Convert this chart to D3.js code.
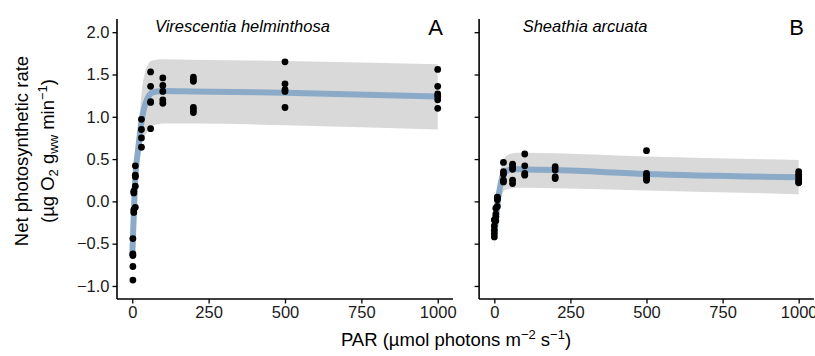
<!DOCTYPE html>
<meta charset="utf-8">
<style>
  body { margin: 0; background: #fff; }
  text { font-family: "Liberation Sans", Arial, Helvetica, sans-serif; }
</style>
<script src="https://d3js.org/d3.v7.min.js"></script>
<div id="my_dataviz"></div>
<script>
// species shown in the two panels
const species = ["Virescentia helminthosa", "Sheathia arcuata"]
const panelTags = ["A", "B"]

// measured points, panel A
const parA  = [2, 2, 2, 2, 2, 5, 5, 5, 5, 10, 10, 10, 10, 10,
               30, 30, 30, 30, 60, 60, 60, 60, 60, 100, 100, 100, 100, 100,
               200, 200, 200, 200, 200, 200, 500, 500, 500, 500, 500,
               1000, 1000, 1000, 1000, 1000, 1000]
const rateA = [-0.93, -0.77, -0.64, -0.62, -0.44, -0.13, -0.10, 0.10, 0.12, -0.07, 0.18, 0.29, 0.31, 0.42,
               0.64, 0.75, 0.85, 0.97, 1.53, 1.36, 1.18, 1.17, 0.86, 1.46, 1.37, 1.30, 1.20, 1.16,
               1.47, 1.44, 1.42, 1.11, 1.08, 1.05, 1.65, 1.39, 1.32, 1.30, 1.11,
               1.56, 1.36, 1.27, 1.24, 1.20, 1.10]

// measured points, panel B
const parB  = [0, 0, 0, 0, 0, 5, 5, 5, 5, 10, 10, 10, 10,
               30, 30, 30, 30, 30, 60, 60, 60, 60, 60, 100, 100, 100, 100,
               200, 200, 200, 200, 500, 500, 500, 500, 500,
               1000, 1000, 1000, 1000, 1000, 1000]
const rateB = [-0.42, -0.38, -0.34, -0.29, -0.22, -0.23, -0.18, -0.15, -0.08, -0.06, 0.02, 0.04, 0.05,
               0.46, 0.35, 0.32, 0.25, 0.23, 0.44, 0.41, 0.38, 0.25, 0.21, 0.56, 0.42, 0.33, 0.31,
               0.41, 0.37, 0.29, 0.27, 0.60, 0.33, 0.30, 0.27, 0.25,
               0.35, 0.32, 0.29, 0.26, 0.23, 0.22]

// fitted curve with its band
const parFit = [0, 2, 5, 8, 12, 19, 25, 31, 40, 50, 62, 80, 100, 200, 500, 1000]
const fitA = [-0.65, -0.45, -0.15, 0.13, 0.38, 0.61, 0.80, 0.96, 1.12, 1.22, 1.28, 1.30, 1.305, 1.30, 1.285, 1.24]
const loA  = [-0.75, -0.56, -0.27, 0.00, 0.24, 0.45, 0.58, 0.68, 0.76, 0.83, 0.89, 0.91, 0.92, 0.92, 0.90, 0.85]
const hiA  = [-0.55, -0.34, -0.03, 0.26, 0.52, 0.80, 1.05, 1.30, 1.50, 1.61, 1.66, 1.675, 1.68, 1.675, 1.66, 1.62]
const fitB = [-0.40, -0.33, -0.22, -0.11, 0.02, 0.17, 0.27, 0.33, 0.36, 0.375, 0.38, 0.38, 0.378, 0.37, 0.325, 0.285]
const loB  = [-0.55, -0.48, -0.37, -0.26, -0.13, 0.00, 0.08, 0.12, 0.14, 0.15, 0.155, 0.16, 0.16, 0.155, 0.13, 0.085]
const hiB  = [-0.25, -0.18, -0.07, 0.04, 0.17, 0.33, 0.44, 0.50, 0.54, 0.56, 0.57, 0.575, 0.575, 0.57, 0.53, 0.49]

const xTicks = [0, 250, 500, 750, 1000]
const yTicks = [-1.0, -0.5, 0.0, 0.5, 1.0, 1.5, 2.0]

var width = 815, height = 356
var panelTop = 19, panelBottom = 299
var panelLeft = [117, 479.1], panelRight = [453, 813.9]
var labelX = [155, 522.7]

var svg = d3.select("#my_dataviz")
  .append("svg")
  .attr("width", width)
  .attr("height", height)

var y = d3.scaleLinear()
  .domain([-1.154, 2.156])
  .range([panelBottom, panelTop])

var panels = [
  { pts: parA.map((p, i) => [p, rateA[i]]), fit: fitA, lo: loA, hi: hiA },
  { pts: parB.map((p, i) => [p, rateB[i]]), fit: fitB, lo: loB, hi: hiB }
]

panels.forEach(function (pd, k) {
  var x = d3.scaleLinear()
    .domain([-50, 1050])
    .range([panelLeft[k], panelRight[k]])

  var g = svg.append("g")

  // confidence band
  var band = d3.area()
    .x(d => x(d))
    .y0((d, i) => y(pd.lo[i]))
    .y1((d, i) => y(pd.hi[i]))
    .curve(d3.curveMonotoneX)
  g.append("path")
    .attr("d", band(parFit))
    .attr("fill", "#d9d9d9")

  // fitted line
  var line = d3.line()
    .x(d => x(d))
    .y((d, i) => y(pd.fit[i]))
    .curve(d3.curveMonotoneX)
  g.append("path")
    .attr("d", line(parFit))
    .attr("fill", "none")
    .attr("stroke", "#8aaac8")
    .attr("stroke-width", 6)

  // points
  g.selectAll("circle")
    .data(pd.pts)
    .enter()
    .append("circle")
      .attr("cx", d => x(d[0]))
      .attr("cy", d => y(d[1]))
      .attr("r", 3.4)
      .attr("fill", "#000")

  // axes
  var xAxis = g.append("g")
    .attr("transform", "translate(0," + panelBottom + ")")
    .call(d3.axisBottom(x).tickValues(xTicks).tickSize(4.5).tickPadding(3).tickFormat(d3.format("d")))
  var yAxis = g.append("g")
    .attr("transform", "translate(" + panelLeft[k] + ",0)")
    .call(d3.axisLeft(y).tickValues(yTicks).tickSize(4.5).tickPadding(3)
      .tickFormat(k === 0 ? d3.format(".1f") : ""))

  ;[xAxis, yAxis].forEach(function (ax) {
    ax.select(".domain").attr("stroke", "#000").attr("stroke-width", 1.6)
    ax.selectAll(".tick line").attr("stroke", "#000").attr("stroke-width", 1.3)
    ax.selectAll(".tick text")
      .attr("fill", "#1a1a1a")
      .style("font-size", "16.5px")
      .style("font-family", "Liberation Sans, Arial, sans-serif")
  })
  // ggplot style: axis lines without end caps
  xAxis.select(".domain").attr("d", "M" + panelLeft[k] + ",0H" + panelRight[k])
  yAxis.select(".domain").attr("d", "M0," + panelBottom + "V" + panelTop)

  // species label and panel tag
  g.append("text")
    .attr("x", labelX[k])
    .attr("y", 32)
    .style("font-size", "16.5px")
    .style("font-style", "italic")
    .text(species[k])
  g.append("text")
    .attr("x", panelRight[k] - 10)
    .attr("y", 35)
    .attr("text-anchor", "end")
    .style("font-size", "22px")
    .text(panelTags[k])
})

// y axis title, two lines
var yTitle = svg.append("text")
  .attr("transform", "translate(0,151) rotate(-90)")
  .attr("text-anchor", "middle")
  .style("font-size", "18.5px")
yTitle.append("tspan").attr("x", 0).attr("y", 28).text("Net photosynthetic rate")
var l2 = yTitle.append("tspan").attr("x", 0).attr("y", 54)
l2.append("tspan").text("(\u00b5g O")
l2.append("tspan").attr("dy", 4).style("font-size", "13px").text("2")
l2.append("tspan").attr("dy", -4).text(" g")
l2.append("tspan").attr("dy", 4).style("font-size", "13px").text("ww")
l2.append("tspan").attr("dy", -4).text(" min")
l2.append("tspan").attr("dy", -7).style("font-size", "13px").text("\u22121")
l2.append("tspan").attr("dy", 7).text(")")

// x axis title
var xTitle = svg.append("text")
  .attr("x", 456)
  .attr("y", 346)
  .attr("text-anchor", "middle")
  .style("font-size", "18.5px")
xTitle.append("tspan").text("PAR (\u00b5mol photons m")
xTitle.append("tspan").attr("dy", -7).style("font-size", "13px").text("\u22122")
xTitle.append("tspan").attr("dy", 7).text(" s")
xTitle.append("tspan").attr("dy", -7).style("font-size", "13px").text("\u22121")
xTitle.append("tspan").attr("dy", 7).text(")")
</script>
